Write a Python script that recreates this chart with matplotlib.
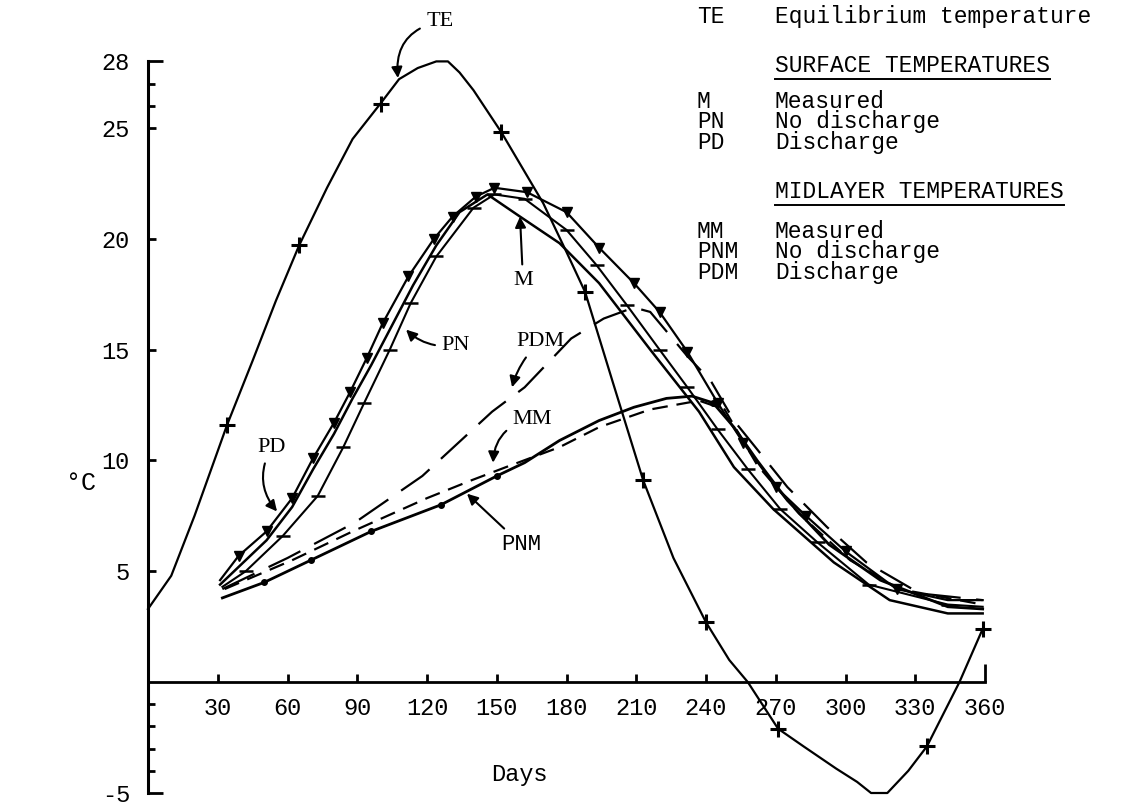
import matplotlib
matplotlib.use("Agg")
import matplotlib.pyplot as plt
from matplotlib.lines import Line2D

MONO = "Liberation Mono"
SERIF = "Liberation Serif"
INK = "black"

plt.rcParams["font.family"] = [MONO, "DejaVu Sans"]
plt.rcParams["axes.unicode_minus"] = False

# ---------- data: day of year, temperature (deg C) ---------------------------
te_days = [0, 10, 20, 34, 45, 55, 65, 77, 88, 100, 108, 116, 124, 129, 134,
           140, 152, 161, 170, 180, 188, 200, 213, 226, 240, 250, 258, 271,
           282, 296, 305, 311, 318, 327, 335, 349, 359]
te_temp = [3.3, 4.8, 7.5, 11.6, 14.5, 17.2, 19.7, 22.3, 24.5, 26.1, 27.2, 27.7,
           28.0, 28.0, 27.5, 26.7, 24.8, 23.2, 21.6, 19.4, 17.6, 13.5, 9.1, 5.6,
           2.7, 1.0, 0.0, -2.1, -2.9, -3.9, -4.5, -5.0, -5.0, -4.0, -2.9, 0.0, 2.4]
te_mark_days = [34, 65, 100, 152, 188, 213, 240, 271, 335, 359]

# surface temperatures
m_days = [31, 40, 51, 62, 71, 80, 88, 96, 104, 114, 124, 134, 146, 160, 177,
          194, 216, 237, 252, 269, 295, 319, 344, 359]
m_temp = [4.4, 5.3, 6.4, 7.9, 9.6, 11.2, 12.8, 14.3, 15.9, 17.9, 19.7, 21.2,
          22.0, 21.0, 19.8, 18.0, 15.0, 12.2, 9.7, 7.8, 5.4, 3.7, 3.1, 3.1]

pn_days = [32, 42, 58, 73, 84, 93, 104, 113, 124, 140, 149, 162, 180, 193, 206,
           220, 232, 245, 258, 272, 288, 310, 344, 359]
pn_temp = [4.3, 5.0, 6.6, 8.4, 10.6, 12.6, 15.0, 17.1, 19.2, 21.4, 22.0, 21.8,
           20.4, 18.8, 17.0, 15.0, 13.3, 11.4, 9.6, 7.8, 6.3, 4.4, 3.5, 3.4]

pd_days = [31, 39, 51, 62, 71, 80, 87, 94, 101, 112, 123, 131, 141, 149, 163,
           180, 194, 209, 220, 232, 245, 256, 270, 283, 300, 322, 344, 359]
pd_temp = [4.6, 5.7, 6.8, 8.3, 10.1, 11.7, 13.1, 14.6, 16.2, 18.3, 20.0, 21.0,
           21.9, 22.3, 22.1, 21.2, 19.6, 18.0, 16.7, 14.9, 12.6, 10.8, 8.8, 7.5,
           5.9, 4.2, 3.7, 3.7]

# midlayer temperatures
mm_days = [33, 62, 88, 120, 139, 154, 177, 194, 216, 237, 248, 262, 280, 302,
           323, 359]
mm_temp = [4.2, 5.5, 6.8, 8.3, 9.1, 9.7, 10.6, 11.5, 12.3, 12.7, 12.3, 9.8, 7.6,
           5.5, 4.2, 3.5]

pnm_days = [32, 50, 70, 96, 126, 150, 162, 177, 194, 209, 223, 234, 243, 252,
            262, 275, 293, 315, 344, 359]
pnm_temp = [3.8, 4.5, 5.5, 6.8, 8.0, 9.3, 9.9, 10.9, 11.8, 12.4, 12.8, 12.9,
            12.6, 11.5, 10.0, 8.2, 6.2, 4.6, 3.4, 3.3]
pnm_mark_days = [50, 70, 96, 126, 150, 243]

pdm_days = [32, 60, 89, 118, 148, 162, 182, 196, 209, 216, 232, 242, 252, 262,
            275, 292, 309, 332, 359]
pdm_temp = [4.2, 5.6, 7.2, 9.3, 12.2, 13.3, 15.5, 16.4, 16.9, 16.7, 14.7, 13.6,
            11.8, 10.5, 8.8, 7.0, 5.4, 4.0, 3.7]

x_ticks = [30, 60, 90, 120, 150, 180, 210, 240, 270, 300, 330, 360]
y_ticks = [-5, 5, 10, 15, 20, 25, 28]
y_minor = [-4, -3, -2, -1, 26, 27]

key_top = (["TE"], ["Equilibrium temperature"])
key_surface = (["M", "PN", "PD"], ["Measured", "No discharge", "Discharge"])
key_midlayer = (["MM", "PNM", "PDM"], ["Measured", "No discharge", "Discharge"])
key_headings = ["SURFACE TEMPERATURES", "MIDLAYER TEMPERATURES"]


# ---------- figure ------------------------------------------------------------
W, H = 1143, 809
fig = plt.figure(figsize=(W / 100, H / 100), dpi=100)
ax = fig.add_axes([148 / W, 1 - 793 / H, 837 / W, (793 - 61.4) / H])
ax.set_xlim(0, 360)
ax.set_ylim(-5, 28)

for s in ("top", "right"):
    ax.spines[s].set_visible(False)
ax.spines["bottom"].set_position(("data", 0))
ax.spines["left"].set_linewidth(2.2)
ax.spines["bottom"].set_linewidth(2.0)

ax.set_xticks(x_ticks)
ax.set_yticks(y_ticks)
ax.set_yticks(y_minor, minor=True)
ax.tick_params(axis="both", which="major", direction="in", width=2,
               length=6, labelsize=17, color=INK)
ax.tick_params(axis="y", which="minor", direction="in", width=2, length=5)
ax.tick_params(axis="y", pad=13)
ax.tick_params(axis="x", pad=11)
ax.yaxis.get_major_ticks()[0].tick1line.set_markersize(11)
ax.yaxis.get_major_ticks()[-1].tick1line.set_markersize(11)
ax.xaxis.get_major_ticks()[-1].tick1line.set_markersize(13)

# equilibrium temperature
te_marks = [te_days.index(d) for d in te_mark_days]
ax.plot(te_days, te_temp, color=INK, lw=1.6, marker="+", ms=11, mew=2.2,
        markevery=te_marks, clip_on=False)

# surface
ax.plot(m_days, m_temp, color=INK, lw=1.8)
ax.plot(pn_days, pn_temp, color=INK, lw=1.5, marker="_", ms=10, mew=1.8,
        markevery=slice(1, -1))
ax.plot(pd_days, pd_temp, color=INK, lw=1.6, marker="v", ms=6.5,
        markevery=slice(1, -2))

# midlayer
pnm_marks = [pnm_days.index(d) for d in pnm_mark_days]
ax.plot(pnm_days, pnm_temp, color=INK, lw=2.0, marker="o", ms=4,
        markevery=pnm_marks)
ax.plot(mm_days, mm_temp, color=INK, lw=1.6, dashes=(7, 4))
ax.plot(pdm_days, pdm_temp, color=INK, lw=1.6, dashes=(16, 7))


# ---------- curve labels --------------------------------------------------------
def tag(text, xy, xytext, rad=0.0, family=SERIF):
    ax.annotate(text, xy=xy, xytext=xytext, ha="center", va="center",
                fontsize=16, family=family, annotation_clip=False,
                arrowprops=dict(arrowstyle="-|>", color=INK, lw=1.5,
                                mutation_scale=16, shrinkA=3, shrinkB=0,
                                connectionstyle=f"arc3,rad={rad}"))


tag("TE", (107.5, 27.25), (125.6, 29.8), rad=0.45)
tag("M", (160.0, 21.0), (161.3, 18.1))
tag("PN", (111.0, 15.9), (132.5, 15.2), rad=-0.25)
tag("PDM", (156.6, 13.3), (168.6, 15.35), rad=0.15)
tag("MM", (148.4, 9.9), (165.2, 11.85), rad=0.4)
tag("PD", (55.5, 7.7), (53.3, 10.6), rad=0.35)
tag("PNM", (137.2, 8.5), (160.6, 6.2), family=MONO)

ax.text(159.6, -4.15, "Days", ha="center", va="center", fontsize=17)
ax.text(-29.0, 9.0, "°C", ha="center", va="center", fontsize=18)


# ---------- key (top right) ------------------------------------------------------
def key_block(y_top, codes, names):
    for x, lines in ((697, codes), (775, names)):
        fig.text(x / W, 1 - y_top / H, "\n".join(lines), ha="left", va="top",
                 fontsize=16.5, family=MONO, linespacing=0.86)


key_block(5, *key_top)
key_block(90, *key_surface)
key_block(220, *key_midlayer)

heads = [fig.text(775 / W, 1 - y / H, h, ha="left", va="center",
                  fontsize=16.5, family=MONO)
         for h, y in zip(key_headings, [66, 192])]
fig.canvas.draw()
rend = fig.canvas.get_renderer()
for t in heads:
    bb = t.get_window_extent(rend)
    yy = (bb.y0 - 1) / H
    fig.add_artist(Line2D([bb.x0 / W, bb.x1 / W], [yy, yy], color=INK, lw=1.4,
                          transform=fig.transFigure))

fig.savefig("out.png", dpi=100)
